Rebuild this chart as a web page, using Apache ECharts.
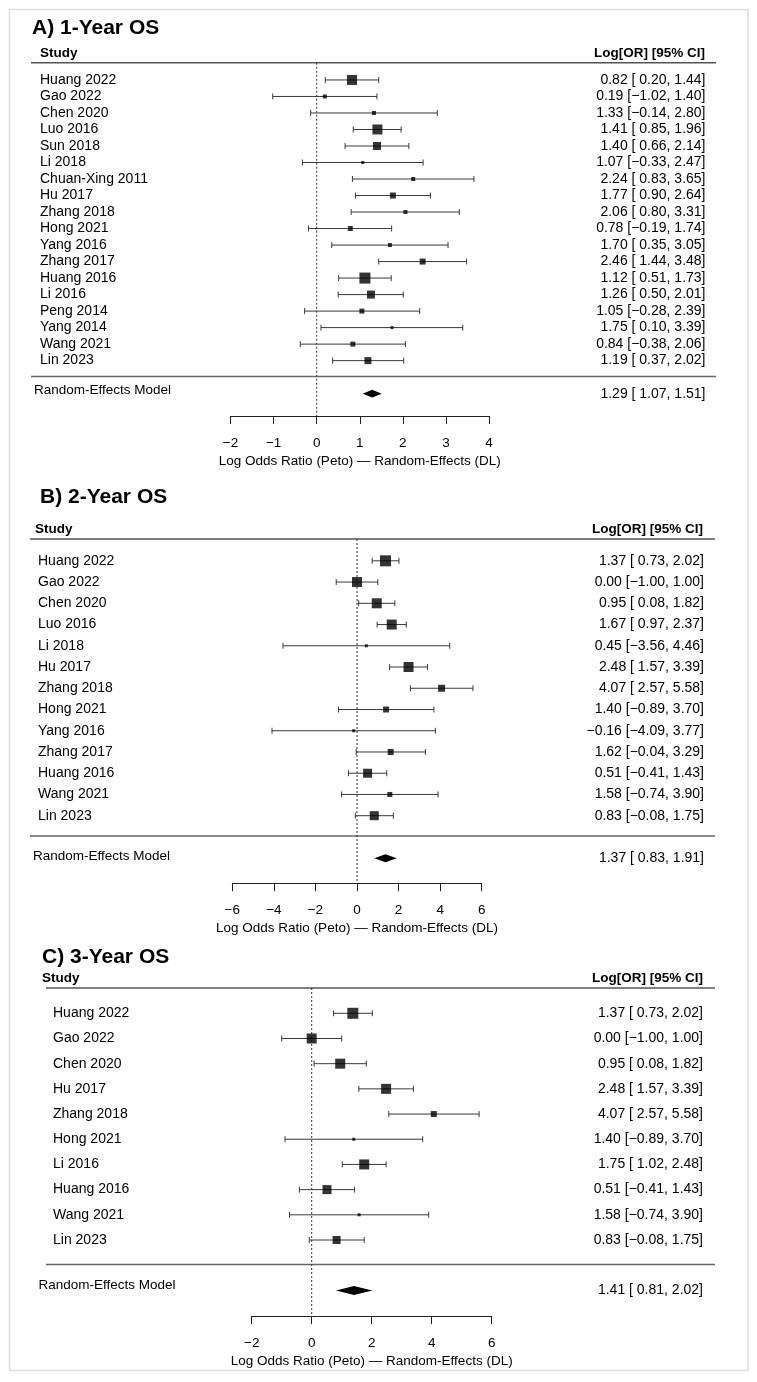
<!DOCTYPE html>
<html>
<head>
<meta charset="utf-8">
<script src="https://cdn.jsdelivr.net/npm/echarts@6/dist/echarts.min.js"></script>
<style>
  html, body { margin: 0; padding: 0; background: #fff; }
  #main { width: 757px; height: 1382px; }
</style>
</head>
<body>
<div id="main"></div>
<script>
// ---- data: 1-year OS ----
var studiesA = ['Huang 2022', 'Gao 2022', 'Chen 2020', 'Luo 2016', 'Sun 2018', 'Li 2018', 'Chuan-Xing 2011', 'Hu 2017', 'Zhang 2018',
  'Hong 2021', 'Yang 2016', 'Zhang 2017', 'Huang 2016', 'Li 2016', 'Peng 2014', 'Yang 2014', 'Wang 2021', 'Lin 2023'];
var estA = [0.82, 0.19, 1.33, 1.41, 1.40, 1.07, 2.24, 1.77, 2.06, 0.78, 1.70, 2.46, 1.12, 1.26, 1.05, 1.75, 0.84, 1.19];
var loA = [0.20, -1.02, -0.14, 0.85, 0.66, -0.33, 0.83, 0.90, 0.80, -0.19, 0.35, 1.44, 0.51, 0.50, -0.28, 0.10, -0.38, 0.37];
var hiA = [1.44, 1.40, 2.80, 1.96, 2.14, 2.47, 3.65, 2.64, 3.31, 1.74, 3.05, 3.48, 1.73, 2.01, 2.39, 3.39, 2.06, 2.02];
var boxA = [10, 4, 4, 10, 8, 3, 4, 6, 4, 5, 4, 6, 11, 8, 5, 3, 5, 7];   // square side, from study weight
var pooledA = [1.29, 1.07, 1.51];
var ticksA = [-2, 4, 1];

// ---- data: 2-year OS ----
var studiesB = ['Huang 2022', 'Gao 2022', 'Chen 2020', 'Luo 2016', 'Li 2018', 'Hu 2017', 'Zhang 2018', 'Hong 2021', 'Yang 2016',
  'Zhang 2017', 'Huang 2016', 'Wang 2021', 'Lin 2023'];
var estB = [1.37, 0.00, 0.95, 1.67, 0.45, 2.48, 4.07, 1.40, -0.16, 1.62, 0.51, 1.58, 0.83];
var loB = [0.73, -1.00, 0.08, 0.97, -3.56, 1.57, 2.57, -0.89, -4.09, -0.04, -0.41, -0.74, -0.08];
var hiB = [2.02, 1.00, 1.82, 2.37, 4.46, 3.39, 5.58, 3.70, 3.77, 3.29, 1.43, 3.90, 1.75];
var boxB = [11, 10, 10, 10, 3, 10, 7, 6, 3, 6, 9, 5, 9];
var pooledB = [1.37, 0.83, 1.91];
var ticksB = [-6, 6, 2];

// ---- data: 3-year OS ----
var studiesC = ['Huang 2022', 'Gao 2022', 'Chen 2020', 'Hu 2017', 'Zhang 2018', 'Hong 2021', 'Li 2016', 'Huang 2016', 'Wang 2021', 'Lin 2023'];
var estC = [1.37, 0.00, 0.95, 2.48, 4.07, 1.40, 1.75, 0.51, 1.58, 0.83];
var loC = [0.73, -1.00, 0.08, 1.57, 2.57, -0.89, 1.02, -0.41, -0.74, -0.08];
var hiC = [2.02, 1.00, 1.82, 3.39, 5.58, 3.70, 2.48, 1.43, 3.90, 1.75];
var boxC = [11, 10, 10, 10, 6, 3, 10, 9, 3, 8];
var pooledC = [1.41, 0.81, 2.02];
var ticksC = [-2, 6, 2];

var FONT = '"Liberation Sans", Arial, Helvetica, sans-serif';
var MINUS = '\u2212';

function num(v, pad) {
  var s = Math.abs(v).toFixed(2);
  if (v < 0) return MINUS + s;
  return pad ? ' ' + s : s;
}
function ciText(e, l, h) {
  return num(e) + ' [' + num(l, true) + ', ' + num(h) + ']';
}

// layout of each panel (pixels)
var panels = [
  { title: 'A) 1-Year OS', studies: studiesA, est: estA, lo: loA, hi: hiA, box: boxA, pooled: pooledA, ticks: ticksA,
    x0: 230.5, x1: 489, top: 71.7, band: 16.51, axisY: 416,
    titleX: 32, titleY: 28.5, headX: 40, headY: 53, headR: 705, lineL: 31, lineR: 716, headLineY: 62.7, sepY: 376.5,
    nameX: 40, reX: 34, reUp: 3.5, valR: 705.5, dia: 3.8 },
  { title: 'B) 2-Year OS', studies: studiesB, est: estB, lo: loB, hi: hiB, box: boxB, pooled: pooledB, ticks: ticksB,
    x0: 232.3, x1: 481.7, top: 550.2, band: 21.24, axisY: 883.3,
    titleX: 40, titleY: 497, headX: 35, headY: 529.3, headR: 703, lineL: 30, lineR: 715, headLineY: 539, sepY: 836,
    nameX: 38, reX: 33, reUp: 1.5, valR: 704, dia: 4 },
  { title: 'C) 3-Year OS', studies: studiesC, est: estC, lo: loC, hi: hiC, box: boxC, pooled: pooledC, ticks: ticksC,
    x0: 251.7, x1: 491.7, top: 1000.7, band: 25.19, axisY: 1316,
    titleX: 42, titleY: 957, headX: 42, headY: 978, headR: 703, lineL: 46, lineR: 715, headLineY: 988, sepY: 1264.5,
    nameX: 53, reX: 38.5, reUp: 5, valR: 703, dia: 4.5 }
];

var grids = [], xAxes = [], yAxes = [], series = [], graphics = [];

graphics.push({
  type: 'rect', silent: true,
  shape: { x: 9.5, y: 9.5, width: 738.5, height: 1361 },
  style: { fill: 'none', stroke: '#dedede', lineWidth: 1.5 }
});

panels.forEach(function (p, k) {
  var n = p.studies.length;
  var rows = n + 2;                       // studies, blank gap, pooled row
  var height = rows * p.band;
  var cats = p.studies.concat(['', 'Random-Effects Model']);
  var vals = p.studies.map(function (s, i) { return ciText(p.est[i], p.lo[i], p.hi[i]); })
    .concat(['', ciText(p.pooled[0], p.pooled[1], p.pooled[2])]);

  grids.push({ left: p.x0, width: p.x1 - p.x0, top: p.top, height: height });

  xAxes.push({
    type: 'value', gridIndex: k, min: p.ticks[0], max: p.ticks[1], interval: p.ticks[2],
    position: 'bottom', offset: p.axisY - (p.top + height),
    axisLine: { show: true, lineStyle: { color: '#222', width: 1 } },
    axisTick: { show: true, length: 8, lineStyle: { color: '#222', width: 1 } },
    axisLabel: { margin: 20, fontSize: 13.5, color: '#000', fontFamily: FONT,
      formatter: function (v) { return v < 0 ? MINUS + Math.abs(v) : String(v); } },
    splitLine: { show: false },
    name: 'Log Odds Ratio (Peto) \u2014 Random-Effects (DL)',
    nameLocation: 'middle', nameGap: 38,
    nameTextStyle: { fontSize: 13.5, color: '#000', fontFamily: FONT }
  });

  // left column: study names
  yAxes.push({
    type: 'category', gridIndex: k, inverse: true, data: cats, position: 'left',
    axisLine: { show: false }, axisTick: { show: false }, splitLine: { show: false },
    axisLabel: {
      interval: 0, align: 'left', margin: p.x0 - p.reX, color: '#000', fontFamily: FONT,
      formatter: function (v, i) {
        if (i === rows - 1) return '{re|' + v + '}';
        return v ? '{nm|' + v + '}' : '';
      },
      rich: {
        nm: { fontSize: 14, color: '#000', fontFamily: FONT, padding: [0, 0, 0, p.nameX - p.reX] },
        re: { fontSize: 13.5, color: '#000', fontFamily: FONT, padding: [0, 0, p.reUp * 2, 0] }
      }
    }
  });
  // right column: estimate [95% CI]
  yAxes.push({
    type: 'category', gridIndex: k, inverse: true, data: vals, position: 'right',
    axisLine: { show: false }, axisTick: { show: false }, splitLine: { show: false },
    axisLabel: { interval: 0, align: 'right', margin: p.valR - p.x1, fontSize: 14, color: '#000', fontFamily: FONT }
  });
  var yIdx = k * 2;

  // dotted no-effect line
  series.push({
    type: 'custom', xAxisIndex: k, yAxisIndex: yIdx, silent: true, z: 1,
    data: [[0, 0]],
    renderItem: function (params, api) {
      var x = api.coord([0, 0])[0];
      return { type: 'line', shape: { x1: x, y1: p.headLineY, x2: x, y2: p.axisY },
        style: { stroke: '#333', lineWidth: 1, lineDash: [2, 2] } };
    }
  });

  // confidence intervals with end caps
  series.push({
    type: 'custom', xAxisIndex: k, yAxisIndex: yIdx, silent: true, z: 2,
    encode: { x: [0, 1], y: 2 },
    data: p.lo.map(function (l, i) { return [l, p.hi[i], i]; }),
    renderItem: function (params, api) {
      var a = api.coord([api.value(0), api.value(2)]);
      var b = api.coord([api.value(1), api.value(2)]);
      var st = { stroke: '#3a3a3a', lineWidth: 1 };
      var c = 3;
      return { type: 'group', children: [
        { type: 'line', shape: { x1: a[0], y1: a[1], x2: b[0], y2: b[1] }, style: st },
        { type: 'line', shape: { x1: a[0], y1: a[1] - c, x2: a[0], y2: a[1] + c }, style: st },
        { type: 'line', shape: { x1: b[0], y1: b[1] - c, x2: b[0], y2: b[1] + c }, style: st }
      ] };
    }
  });

  // study estimates
  series.push({
    type: 'scatter', xAxisIndex: k, yAxisIndex: yIdx, silent: true, z: 3,
    symbol: 'rect',
    symbolSize: function (val) { return val[2]; },
    itemStyle: { color: '#000' },
    data: p.est.map(function (e, i) { return [e, i, p.box[i]]; })
  });

  // pooled diamond
  series.push({
    type: 'custom', xAxisIndex: k, yAxisIndex: yIdx, silent: true, z: 3,
    encode: { x: [0, 1, 2], y: 3 },
    data: [[p.pooled[1], p.pooled[0], p.pooled[2], rows - 1]],
    renderItem: function (params, api) {
      var y = api.value(3);
      var l = api.coord([api.value(0), y]);
      var m = api.coord([api.value(1), y]);
      var r = api.coord([api.value(2), y]);
      return { type: 'polygon',
        shape: { points: [[l[0], l[1]], [m[0], m[1] - p.dia], [r[0], r[1]], [m[0], m[1] + p.dia]] },
        style: { fill: '#000' } };
    }
  });

  // title, header texts and rules
  graphics.push({ type: 'text', x: p.titleX, y: p.titleY, silent: true,
    style: { text: p.title, font: 'bold 21px ' + FONT, fill: '#000', align: 'left', verticalAlign: 'middle' } });
  graphics.push({ type: 'text', x: p.headX, y: p.headY, silent: true,
    style: { text: 'Study', font: 'bold 13.5px ' + FONT, fill: '#000', align: 'left', verticalAlign: 'middle' } });
  graphics.push({ type: 'text', x: p.headR, y: p.headY, silent: true,
    style: { text: 'Log[OR] [95% CI]', font: 'bold 13.5px ' + FONT, fill: '#000', align: 'right', verticalAlign: 'middle' } });
  graphics.push({ type: 'line', silent: true,
    shape: { x1: p.lineL, y1: p.headLineY, x2: p.lineR, y2: p.headLineY },
    style: { stroke: '#555', lineWidth: 1.5 } });
  graphics.push({ type: 'line', silent: true,
    shape: { x1: p.lineL, y1: p.sepY, x2: p.lineR, y2: p.sepY },
    style: { stroke: '#666', lineWidth: 1.5 } });
});

var chart = echarts.init(document.getElementById('main'));
chart.setOption({
  animation: false,
  backgroundColor: '#fff',
  textStyle: { fontFamily: FONT },
  grid: grids,
  xAxis: xAxes,
  yAxis: yAxes,
  series: series,
  graphic: graphics
});
</script>
</body>
</html>
